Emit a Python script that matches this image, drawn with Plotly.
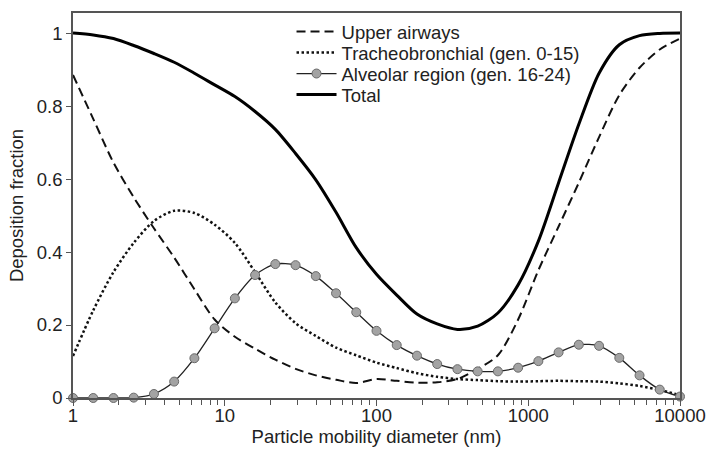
import plotly.graph_objects as go

# Particle mobility diameter grid (nm), log-spaced from 1 to 10000
diameter_nm = [1, 1.359, 1.848, 2.512, 3.415, 4.642, 6.310, 8.577, 11.66, 15.85,
               21.54, 29.29, 39.81, 54.12, 73.56, 100, 135.9, 184.8, 251.2, 341.5,
               464.2, 631.0, 857.7, 1166, 1585, 2154, 2929, 3981, 5412, 7356, 10000]

# Deposition fractions per lung region
upper_airways = [0.885, 0.765, 0.645, 0.550, 0.465, 0.385, 0.298, 0.215, 0.168, 0.135,
                 0.105, 0.080, 0.062, 0.050, 0.041, 0.052, 0.047, 0.042, 0.043, 0.052,
                 0.080, 0.117, 0.215, 0.350, 0.470, 0.590, 0.715, 0.830, 0.905, 0.955, 0.985]

tracheobronchial = [0.115, 0.240, 0.345, 0.425, 0.485, 0.513, 0.507, 0.475, 0.425, 0.345,
                    0.262, 0.205, 0.170, 0.138, 0.117, 0.097, 0.082, 0.068, 0.058, 0.052,
                    0.049, 0.046, 0.045, 0.046, 0.047, 0.046, 0.045, 0.040, 0.033, 0.022, 0.008]

alveolar = [0.000, 0.000, 0.000, 0.001, 0.011, 0.045, 0.109, 0.191, 0.273, 0.337,
            0.367, 0.364, 0.334, 0.287, 0.235, 0.184, 0.145, 0.116, 0.093, 0.079,
            0.073, 0.073, 0.083, 0.101, 0.125, 0.146, 0.143, 0.110, 0.062, 0.023, 0.004]

total = [1.000, 0.995, 0.985, 0.966, 0.944, 0.920, 0.890, 0.858, 0.826, 0.785,
         0.736, 0.670, 0.598, 0.509, 0.412, 0.339, 0.282, 0.230, 0.203, 0.188,
         0.197, 0.233, 0.310, 0.430, 0.590, 0.750, 0.890, 0.968, 0.993, 0.999, 1.000]

x_tick_vals = [1, 10, 100, 1000, 10000]
x_tick_text = ["1", "10", "100", "1000", "10000"]
y_tick_vals = [0, 0.2, 0.4, 0.6, 0.8, 1]
y_tick_text = ["0", "0.2", "0.4", "0.6", "0.8", "1"]

FONT = "Liberation Sans, Arial, sans-serif"
FS = 18.5
TEXT = "#222222"
AXIS = "#555555"

fig = go.Figure()

fig.add_trace(go.Scatter(
    x=diameter_nm, y=upper_airways, name="Upper airways", mode="lines",
    line=dict(color="#111111", width=2, dash="9px,5px", shape="spline", smoothing=0.8),
    legend="legend",
))
fig.add_trace(go.Scatter(
    x=diameter_nm, y=tracheobronchial, name="Tracheobronchial (gen. 0-15)", mode="lines",
    line=dict(color="#111111", width=2.5, dash="2.5px,2.5px", shape="spline", smoothing=0.8),
    legend="legend2",
))
fig.add_trace(go.Scatter(
    x=diameter_nm, y=alveolar, name="Alveolar region (gen. 16-24)", mode="lines+markers",
    line=dict(color="#222222", width=1.3, shape="spline", smoothing=0.8),
    marker=dict(size=9, color="#a3a3a3", line=dict(color="#6a6a6a", width=1)),
    cliponaxis=False,
    legend="legend3",
))
fig.add_trace(go.Scatter(
    x=diameter_nm, y=total, name="Total", mode="lines",
    line=dict(color="#000000", width=3, shape="spline", smoothing=0.8),
    legend="legend4",
))

# one single-entry legend per row so the row pitch can be set directly
PLOT_TOP, PLOT_BOTTOM = 13, 398
row_centres_px = [32, 53, 74, 95]


def legend_box(ypx):
    return dict(
        x=0.36, y=(PLOT_BOTTOM - ypx) / (PLOT_BOTTOM - PLOT_TOP),
        xanchor="left", yanchor="middle",
        bgcolor="rgba(0,0,0,0)", borderwidth=0,
        font=dict(family=FONT, size=FS, color=TEXT),
        itemwidth=40,
    )


fig.update_layout(
    width=708, height=450,
    margin=dict(l=73, r=28, t=13, b=52),
    paper_bgcolor="white", plot_bgcolor="white",
    font=dict(family=FONT, size=FS, color=TEXT),
    showlegend=True,
    legend=legend_box(row_centres_px[0]),
    legend2=legend_box(row_centres_px[1]),
    legend3=legend_box(row_centres_px[2]),
    legend4=legend_box(row_centres_px[3]),
    xaxis=dict(
        type="log", range=[0, 4],
        tickvals=x_tick_vals, ticktext=x_tick_text,
        ticks="outside", ticklen=6, tickwidth=1, tickcolor=AXIS,
        ticklabelstandoff=-6,
        minor=dict(ticks="outside", ticklen=5, tickwidth=1, tickcolor=AXIS,
                   dtick="D1", showgrid=False),
        showline=True, linecolor=AXIS, linewidth=1.5, mirror=True,
        showgrid=False, zeroline=False,
        tickfont=dict(family=FONT, size=FS, color=TEXT),
        title=dict(text="Particle mobility diameter (nm)", standoff=0,
                   font=dict(family=FONT, size=FS, color=TEXT)),
        automargin=False,
    ),
    yaxis=dict(
        range=[0, 1.055],
        tickvals=y_tick_vals, ticktext=y_tick_text,
        ticks="outside", ticklen=5, tickwidth=1, tickcolor=AXIS,
        showline=True, linecolor=AXIS, linewidth=1.5, mirror=True,
        showgrid=False, zeroline=False,
        tickfont=dict(family=FONT, size=FS, color=TEXT),
        title=dict(text="Deposition fraction", standoff=8,
                   font=dict(family=FONT, size=FS, color=TEXT)),
        automargin=False,
    ),
)

fig.write_html("out.html")
